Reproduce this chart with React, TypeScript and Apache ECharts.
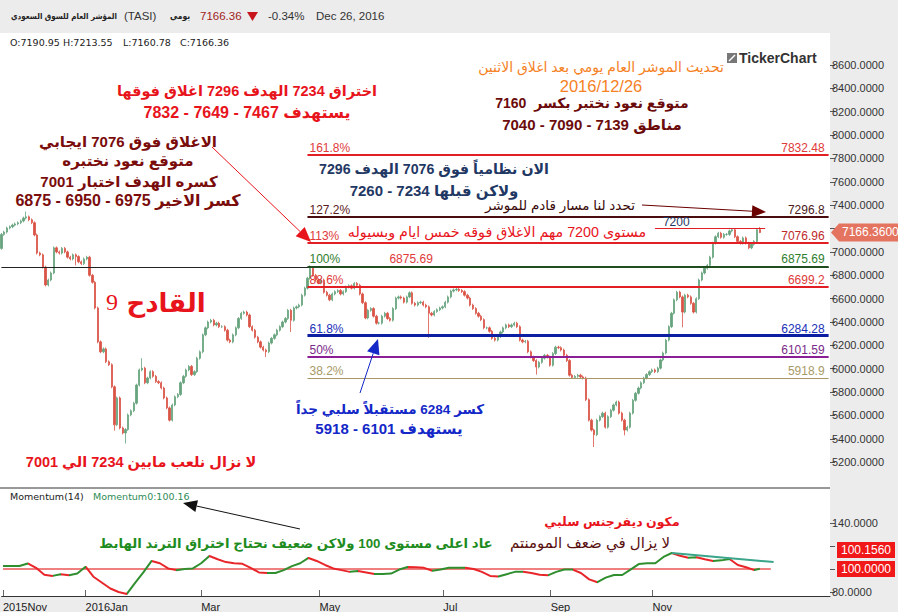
import React, { useEffect, useRef } from 'react';
import * as echarts from 'echarts';

// ---------- DATA ----------
const START_DATE = [2015, 10, 22]; // 2015-11-22 (UTC y, m0, d)
const END_DATE = [2016, 11, 26]; // 2016-12-26
const HOLIDAYS = [
  '2016-07-03', '2016-07-04', '2016-07-05', '2016-07-06', '2016-07-07',
  '2016-09-08', '2016-09-11', '2016-09-12', '2016-09-13', '2016-09-14', '2016-09-15',
];
const PAD_CATEGORIES = 25;

const closes = [
  7150, 7170, 7205, 7215, 7230, 7240, 7250, 7265, 7290, 7300,
  7275, 7250, 7145, 6990, 6975, 6870, 6717, 6760, 6820, 7035,
  7000, 6990, 7030, 7000, 6955, 6940, 6975, 6960, 6915, 6900,
  6940, 6955, 6800, 6740, 6520, 6230, 6145, 6170, 6060, 6035,
  5845, 5520, 5750, 5493, 5450, 5480, 5605, 5640, 5705, 5860,
  5990, 6005, 5880, 5920, 5975, 5935, 5890, 5880, 5835, 5750,
  5665, 5560, 5690, 5760, 5780, 5880, 5935, 5990, 6020, 5950,
  5975, 6090, 6145, 6290, 6350, 6400, 6415, 6375, 6390, 6360,
  6360, 6330, 6245, 6230, 6290, 6350, 6430, 6475, 6485, 6460,
  6360, 6330, 6270, 6230, 6185, 6160, 6145, 6220, 6260, 6290,
  6330, 6360, 6400, 6430, 6500, 6415, 6520, 6530, 6545, 6630,
  6690, 6775, 6860, 6800, 6760, 6735, 6760, 6655, 6630, 6590,
  6640, 6660, 6670, 6640, 6660, 6700, 6710, 6690, 6730, 6715,
  6640, 6565, 6435, 6500, 6515, 6450, 6390, 6390, 6450, 6475,
  6430, 6415, 6515, 6605, 6615, 6605, 6570, 6615, 6650, 6560,
  6545, 6565, 6570, 6545, 6530, 6475, 6460, 6490, 6505, 6520,
  6530, 6570, 6615, 6665, 6675, 6680, 6670, 6660, 6630, 6605,
  6545, 6515, 6475, 6450, 6420, 6350, 6350, 6320, 6260, 6245,
  6275, 6315, 6350, 6375, 6360, 6375, 6390, 6360, 6245, 6230,
  6235, 6145, 6100, 6070, 6015, 6055, 6090, 6115, 6100, 6030,
  6130, 6185, 6180, 6160, 6115, 6070, 5945, 5925, 5935, 5945,
  5930, 5920, 5735, 5560, 5475, 5435, 5560, 5590, 5620, 5500,
  5590, 5645, 5690, 5715, 5620, 5560, 5475, 5500, 5620, 5730,
  5790, 5835, 5880, 5920, 5950, 5975, 5990, 5975, 6005, 6075,
  6135, 6245, 6360, 6475, 6590, 6655, 6615, 6485, 6630, 6615,
  6560, 6485, 6600, 6760, 6820, 6860, 6885, 6955, 7075, 7130,
  7160, 7125, 7150, 7150, 7180, 7190, 7130, 7090, 7075, 7120,
  7075, 7035, 7065, 7090, 7190.8, 7166.36,
];
const firstOpen = 7030;
const lastBar = { open: 7190.95, high: 7213.55, low: 7160.78, close: 7166.36 };
const WICK = 12;
// [index, low, high] read from visible long shadows
const wickOverrides: [number, number | null, number | null][] = [
  [9, null, 7345], [27, 6885, null], [41, 5470, null], [45, 5360, null], [51, null, 6090],
  [96, 6100, null], [105, 6315, null], [112, null, 6885], [155, 6265, null], [165, null, 6705],
  [194, 5950, null], [215, 5330, null], [226, 5430, null], [247, 6355, null],
];

const momentumIdx = [
  0, 3, 6, 9, 12, 15, 18, 21, 24, 27, 30, 33, 36, 39, 42, 45, 48, 51, 54, 57,
  60, 63, 66, 69, 72, 75, 78, 81, 84, 87, 90, 93, 96, 99, 102, 105, 108, 111, 114, 117,
  120, 123, 126, 129, 132, 135, 138, 141, 144, 147, 150, 153, 156, 159, 162, 165, 168, 171, 174, 177,
  180, 183, 186, 189, 192, 195, 198, 201, 204, 207, 210, 213, 216, 219, 222, 225, 228, 231, 234, 237,
  240, 243, 246, 249, 252, 255, 258, 261, 264, 267, 270, 273, 275,
];
const momentumVals = [
  102.6, 102.6, 102.6, 104.8, 101, 95, 94, 95.5, 94.5, 96, 102, 93, 88, 83, 80, 78.3, 88, 97, 107, 105,
  100.5, 99, 100, 100.5, 105, 111.3, 108.5, 106, 105, 104.5, 101, 97, 96.5, 96.5, 99, 102.5, 105, 109.6, 107, 103.5,
  100.5, 99, 97.5, 98.3, 97, 95.7, 95.7, 96, 99.5, 101.7, 101.5, 101, 98.5, 99.5, 101, 101, 101, 100, 97.5, 94,
  93.5, 95.5, 97.5, 97.5, 96.5, 95, 94.5, 97.5, 99.5, 99.5, 96.5, 91, 88.5, 92.5, 94.8, 94.8, 99.5, 104.3, 105, 105,
  110.5, 113.9, 111.5, 109.8, 110.2, 108.5, 107, 107.5, 108.7, 103.5, 101.5, 99, 100.16,
];
const momentumLastTag = 100.156;
const baseline100 = [[0, 100], [279, 100]];
const momTrend = [[243, 113.9], [280, 106]];

const fibPct = ['161.8%', '127.2%', '113%', '100%', '88.6%', '61.8%', '50%', '38.2%'];
const fibVals = [7832.48, 7296.8, 7076.96, 6875.69, 6699.2, 6284.28, 6101.59, 5918.9];
const fibLabels = ['7832.48', '7296.8', '7076.96', '6875.69', '6699.2', '6284.28', '6101.59', '5918.9'];
const fibStartIdx = 111;
const level7200 = 7200;
const level7200Range = [237, 277];
const hLineValue = 6872;

const mainTicks = [5200, 5400, 5600, 5800, 6000, 6200, 6400, 6600, 6800, 7000, 7200, 7400, 7600, 7800, 8000, 8200, 8400, 8600];
const mainLabels = [5200, 5400, 5600, 5800, 6000, 6200, 6400, 6600, 6800, 7000, 7400, 7600, 7800, 8000, 8200, 8400, 8600];
const momTicks = [80, 100, 120, 140];
const momLabels = [80, 140];
const xTickDates = ['2015-11-22', '2016-01-03', '2016-03-01', '2016-05-01', '2016-07-10', '2016-09-01', '2016-11-01'];
const xTickLabels = ['2015Nov', '2016Jan', 'Mar', 'May', 'Jul', 'Sep', 'Nov'];

// ---------- STYLE ----------
const UP = '#67a37d';
const DOWN = '#da5446';
const MOM_UP = '#2f8f2f';
const MOM_DOWN = '#e8262a';
const fibLineColors = ['#e31e24', '#4a0d0d', '#e31e24', '#1f4d1f', '#e31e24', '#0c1fa3', '#8a1f96', '#a89a66'];
const fibWidths = [2, 2, 2, 2, 2, 3, 2, 1];
const fibPctColors = ['#e03a3a', '#5a2020', '#e03a3a', '#2e7d2e', '#e03a3a', '#2030b8', '#7a2a8a', '#a89a66'];
const fibValColors = ['#e03a3a', '#4a2020', '#c02a2a', '#2e7d2e', '#e03a3a', '#2030b8', '#7a2a8a', '#a89a66'];
const AR = '"Liberation Sans", "DejaVu Sans", sans-serif';
const ARC = '"DejaVu Sans Condensed", "DejaVu Sans", sans-serif';
const LAT = '"Liberation Sans", Arial, sans-serif';
const HIDDEN_LINE = { width: 0, color: 'rgba(0,0,0,0)' };

function tradingDays(): string[] {
  const out: string[] = [];
  const d = new Date(Date.UTC(START_DATE[0], START_DATE[1], START_DATE[2]));
  const end = Date.UTC(END_DATE[0], END_DATE[1], END_DATE[2]);
  while (d.getTime() <= end) {
    const wd = d.getUTCDay();
    const s = d.toISOString().slice(0, 10);
    if (wd !== 5 && wd !== 6 && HOLIDAYS.indexOf(s) < 0) out.push(s);
    d.setUTCDate(d.getUTCDate() + 1);
  }
  return out;
}

const rtl = (s: string) => '\u202B' + s + '\u202C';

function txt(x: number, y: number, text: string, font: string, fill: string, align = 'center') {
  return {
    type: 'text', x, y, z: 100, silent: true,
    style: { text, font, fill, align, verticalAlign: 'middle', textAlign: align, textVerticalAlign: 'middle' },
  };
}

function arrow(x1: number, y1: number, x2: number, y2: number, color: string, len = 14, w = 12, lw = 1) {
  const dx = x2 - x1, dy = y2 - y1, L = Math.hypot(dx, dy), ux = dx / L, uy = dy / L;
  const bx = x2 - ux * len, by = y2 - uy * len;
  const px = (-uy * w) / 2, py = (ux * w) / 2;
  return [
    { type: 'line', z: 100, silent: true, shape: { x1, y1, x2: bx, y2: by }, style: { stroke: color, lineWidth: lw } },
    { type: 'polygon', z: 100, silent: true, shape: { points: [[x2, y2], [bx + px, by + py], [bx - px, by - py]] }, style: { fill: color } },
  ];
}

export default function App() {
  const ref = useRef<HTMLDivElement>(null);
  useEffect(() => {
    if (!ref.current) return;
    const chart = echarts.init(ref.current, undefined, { renderer: 'svg' });

    const days = tradingDays();
    const n = Math.min(days.length, closes.length);
    const cats: string[] = days.slice(0, n);
    for (let k = 0; k < PAD_CATEGORIES; k++) cats.push('pad' + k);
    const lastCat = cats.length - 1;

    const candles: number[][] = [];
    for (let i = 0; i < n; i++) {
      let o = i === 0 ? firstOpen : closes[i - 1];
      let c = closes[i];
      let lo = Math.min(o, c) - WICK;
      let hi = Math.max(o, c) + WICK;
      if (i === n - 1) { o = lastBar.open; c = lastBar.close; lo = lastBar.low; hi = lastBar.high; }
      const ov = wickOverrides.find((w) => w[0] === i);
      if (ov) { if (ov[1] != null) lo = ov[1]; if (ov[2] != null) hi = ov[2]; }
      candles.push([o, c, lo, hi]);
    }

    const labelMap: Record<string, string> = {};
    xTickDates.forEach((d, k) => { labelMap[d] = xTickLabels[k]; });
    const isTick = (_i: number, v: string) => labelMap[v] !== undefined;

    const momData = momentumIdx.map((ix, k) => [ix, momentumVals[k]]);
    const pieces: any[] = [];
    for (let k = 0; k < momentumIdx.length - 1; k++) {
      pieces.push({
        gte: momentumIdx[k], lt: momentumIdx[k + 1],
        color: momentumVals[k + 1] >= momentumVals[k] ? MOM_UP : MOM_DOWN,
      });
    }

    const markData: any[] = [];
    markData.push([{ coord: [0, hLineValue], lineStyle: { color: '#222', width: 1, type: 'solid' }, label: { show: false } }, { coord: [lastCat, hLineValue] }]);
    fibVals.forEach((v, k) => {
      markData.push([
        { coord: [fibStartIdx, v], lineStyle: { color: fibLineColors[k], width: fibWidths[k], type: 'solid' },
          label: { show: true, position: 'insideStartTop', formatter: fibPct[k], color: fibPctColors[k], fontSize: 12, fontFamily: LAT, distance: [2, 1] } },
        { coord: [lastCat, v] },
      ]);
      markData.push([
        { coord: [fibStartIdx, v], lineStyle: HIDDEN_LINE,
          label: { show: true, position: 'insideEndTop', formatter: fibLabels[k], color: fibValColors[k], fontSize: 12, fontFamily: LAT, distance: [4, 1] } },
        { coord: [lastCat, v] },
      ]);
    });
    markData.push([
      { coord: [140, fibVals[3]], lineStyle: HIDDEN_LINE,
        label: { show: true, position: 'insideStartTop', formatter: fibLabels[3], color: '#e03a3a', fontSize: 12, fontFamily: LAT, distance: [2, 1] } },
      { coord: [170, fibVals[3]] },
    ]);
    markData.push([
      { coord: [level7200Range[0], level7200], lineStyle: { color: '#e31e24', width: 1, type: 'solid' },
        label: { show: true, position: 'insideStartTop', formatter: String(level7200), color: '#1f3864', fontSize: 12, fontFamily: LAT, distance: [8, 1] } },
      { coord: [level7200Range[1], level7200] },
    ]);

    const ARB = (s: number) => `bold ${s}px ${AR}`;
    const ARN = (s: number) => `${s}px ${AR}`;
    const staticGraphics: any[] = [
      { type: 'rect', z: -10, silent: true, shape: { x: 0, y: 0, width: 898, height: 33 }, style: { fill: '#ececec' } },
      { type: 'rect', z: -10, silent: true, shape: { x: 830, y: 33, width: 68, height: 579 }, style: { fill: '#ececec' } },
      { type: 'rect', z: -10, silent: true, shape: { x: 0, y: 597, width: 898, height: 15 }, style: { fill: '#ececec' } },
      { type: 'line', z: 50, silent: true, shape: { x1: 0, y1: 488, x2: 830, y2: 488 }, style: { stroke: '#333', lineWidth: 1 } },
      // header
      txt(64, 16, rtl('المؤشر العام للسوق السعودي'), `bold 8px ${ARC}`, '#222', 'center'),
      txt(124, 16, '(TASI)', `11.5px ${LAT}`, '#333', 'left'),
      txt(180, 16, rtl('يومي'), `bold 8.5px ${ARC}`, '#222', 'center'),
      txt(200, 16, '7166.36', `11.5px ${LAT}`, '#a01c1c', 'left'),
      { type: 'polygon', z: 100, silent: true, shape: { points: [[247, 12], [258, 12], [252.5, 21]] }, style: { fill: '#c8141c' } },
      txt(268, 16, '-0.34%', `11.5px ${LAT}`, '#333', 'left'),
      txt(316, 16, 'Dec 26, 2016', `11.5px ${LAT}`, '#333', 'left'),
      txt(10, 42, 'O:7190.95', `9.5px "DejaVu Sans", sans-serif`, '#222', 'left'),
      txt(63, 42, 'H:7213.55', `9.5px "DejaVu Sans", sans-serif`, '#222', 'left'),
      txt(123, 42, 'L:7160.78', `9.5px "DejaVu Sans", sans-serif`, '#222', 'left'),
      txt(180, 42, 'C:7166.36', `9.5px "DejaVu Sans", sans-serif`, '#222', 'left'),
      txt(10, 496, 'Momentum(14)', `9.5px "DejaVu Sans", sans-serif`, '#222', 'left'),
      txt(93, 496, 'Momentum0:100.16', `9.5px "DejaVu Sans", sans-serif`, '#2e8b57', 'left'),
      // logo
      { type: 'rect', z: 100, silent: true, shape: { x: 727, y: 53, width: 10, height: 10 }, style: { fill: '#777' } },
      { type: 'line', z: 101, silent: true, shape: { x1: 729, y1: 61, x2: 735, y2: 55 }, style: { stroke: '#fff', lineWidth: 1.5 } },
      txt(739, 58, 'TickerChart', `bold 14px ${LAT}`, '#333', 'left'),
      // annotations
      txt(247, 91, rtl('اختراق 7234 الهدف 7296 اغلاق فوقها'), ARB(14.5), '#e8141c'),
      txt(247, 112, rtl('يستهدف 7467 - 7649 - 7832'), ARB(16), '#e8141c'),
      txt(128, 141, rtl('الاغلاق فوق 7076 ايجابي'), ARB(15), '#7a0c0c'),
      txt(128, 160, rtl('متوقع نعود نختبره'), ARB(15), '#7a0c0c'),
      txt(129, 181, rtl('كسره الهدف اختبار 7001'), ARB(15), '#7a0c0c'),
      txt(128, 200, rtl('كسر الاخير 6975 - 6950 - 6875'), ARB(16), '#7a0c0c'),
      txt(601, 67, rtl('تحديث الموشر العام يومي بعد اغلاق الاثنين'), ARN(14), '#f5821f'),
      txt(601, 86, '2016/12/26', ARN(16.5), '#f5821f'),
      txt(592, 103, rtl('متوقع نعود نختبر بكسر  7160'), ARB(14), '#6b0b0b'),
      txt(592, 124, rtl('مناطق 7139 - 7090 - 7040'), ARB(15), '#6b0b0b'),
      txt(434, 169, rtl('الان نظامياً فوق 7076 الهدف 7296'), ARB(14.2), '#1f3864'),
      txt(434, 190, rtl('ولاكن قبلها 7234 - 7260'), ARB(15), '#1f3864'),
      txt(560, 205, rtl('تحدد لنا مسار قادم للموشر'), ARN(13.5), '#3a0a0a'),
      txt(497, 232, rtl('مستوى 7200 مهم الاغلاق فوقه خمس ايام وبسيوله'), ARN(14.3), '#e8141c'),
      txt(166, 303, rtl('القادح'), ARB(26), '#e8141c'),
      txt(112, 302, '9', `24px "Liberation Serif", serif`, '#e8141c'),
      txt(141, 462, rtl('لا نزال نلعب مابين 7234 الي 7001'), ARB(14.5), '#e8141c'),
      txt(390, 409, rtl('كسر 6284 مستقبلاً سلبي جداً'), ARB(13.5), '#1428c8'),
      txt(389, 428, rtl('يستهدف 6101 - 5918'), ARB(15), '#1428c8'),
      txt(296, 543, rtl('عاد اعلى مستوى 100 ولاكن ضعيف نحتاج اختراق الترند الهابط'), ARB(13.3), '#1e8c1e'),
      txt(612, 522, rtl('مكون ديفرجنس سلبي'), ARB(12.5), '#e8141c'),
      txt(590, 542, rtl('لا يزال في ضعف المومنتم'), ARN(15), '#5a1010'),
      ...arrow(212, 147, 311, 242, '#e8141c', 15, 13),
      ...arrow(642, 205, 766, 212, '#6b0000', 14, 12),
      ...arrow(360, 393, 378, 339, '#1428c8', 15, 13),
      ...arrow(300, 529, 183, 503, '#111', 14, 12),
    ];

    const option: any = {
      animation: false,
      backgroundColor: '#ffffff',
      textStyle: { fontFamily: LAT },
      grid: [
        { left: 0, top: 34, width: 830, height: 453 },
        { left: 0, top: 489, width: 830, height: 107 },
      ],
      xAxis: [
        { type: 'category', gridIndex: 0, data: cats, boundaryGap: true, show: false },
        {
          type: 'category', gridIndex: 1, data: cats, boundaryGap: true,
          axisLine: { show: true, lineStyle: { color: '#333' } },
          axisTick: { show: true, inside: true, length: 6, alignWithLabel: true, interval: isTick, lineStyle: { color: '#666' } },
          axisLabel: { interval: isTick, formatter: (v: string) => labelMap[v] || '', align: 'left', margin: 5, fontSize: 11, color: '#222' },
          splitLine: { show: false },
        },
      ],
      yAxis: [
        {
          type: 'value', gridIndex: 0, position: 'right', min: 4987.7, max: 8865.4,
          splitLine: { show: false }, axisLine: { show: false },
          axisTick: { show: true, length: 5, customValues: mainTicks, lineStyle: { color: '#555' } },
          axisLabel: { customValues: mainLabels, formatter: (v: number) => v.toFixed(4), fontSize: 11, color: '#333', margin: 2 },
        },
        {
          type: 'value', gridIndex: 1, position: 'right', min: 76.5, max: 169.6,
          splitLine: { show: false }, axisLine: { show: false },
          axisTick: { show: true, length: 5, customValues: momTicks, lineStyle: { color: '#555' } },
          axisLabel: { customValues: momLabels, formatter: (v: number) => v.toFixed(4), fontSize: 11, color: '#333', margin: 2 },
        },
      ],
      visualMap: {
        show: false, type: 'piecewise', seriesIndex: 3, dimension: 0, pieces,
        outOfRange: { color: MOM_DOWN },
      },
      series: [
        {
          type: 'candlestick', xAxisIndex: 0, yAxisIndex: 0, data: candles, barWidth: 1.8,
          itemStyle: { color: UP, color0: DOWN, borderColor: UP, borderColor0: DOWN, borderWidth: 0.8 },
          markLine: { silent: true, symbol: ['none', 'none'], animation: false, data: markData },
          z: 2,
        },
        {
          type: 'line', xAxisIndex: 1, yAxisIndex: 1, data: baseline100, showSymbol: false, silent: true,
          lineStyle: { color: '#f08080', width: 2 }, z: 1,
        },
        {
          type: 'line', xAxisIndex: 1, yAxisIndex: 1, data: momTrend, showSymbol: false, silent: true,
          lineStyle: { color: '#3aa58a', width: 2 }, z: 4,
        },
        {
          type: 'line', xAxisIndex: 1, yAxisIndex: 1, data: momData, showSymbol: false, silent: true,
          lineStyle: { width: 2 }, z: 3,
        },
      ],
      graphic: staticGraphics,
    };
    chart.setOption(option);

    const tags: any[] = [];
    const yPrice = chart.convertToPixel({ yAxisIndex: 0 } as any, lastBar.close) as unknown as number;
    if (isFinite(yPrice)) {
      tags.push({ type: 'polygon', z: 110, silent: true, shape: { points: [[831, yPrice], [839, yPrice - 9], [898, yPrice - 9], [898, yPrice + 9], [839, yPrice + 9]] }, style: { fill: '#e4735f' } });
      tags.push({ ...txt(842, yPrice, lastBar.close.toFixed(4), `12px ${LAT}`, '#ffffff', 'left'), z: 111 });
    }
    const y100 = chart.convertToPixel({ yAxisIndex: 1 } as any, 100) as unknown as number;
    if (isFinite(y100)) {
      const yTag = y100 - 19;
      tags.push({ type: 'rect', z: 110, silent: true, shape: { x: 837, y: yTag - 8, width: 58, height: 16 }, style: { fill: '#f01818' } });
      tags.push({ ...txt(866, yTag, momentumLastTag.toFixed(4), `12px ${LAT}`, '#ffffff'), z: 111 });
      tags.push({ type: 'rect', z: 110, silent: true, shape: { x: 837, y: y100 - 8, width: 58, height: 16 }, style: { fill: '#f01818' } });
      tags.push({ ...txt(866, y100, (100).toFixed(4), `12px ${LAT}`, '#ffffff'), z: 111 });
    }
    chart.setOption({ graphic: [...staticGraphics, ...tags] });

    return () => chart.dispose();
  }, []);
  return <div ref={ref} style={{ width: 898, height: 612, position: 'absolute', left: 0, top: 0 }} />;
}
